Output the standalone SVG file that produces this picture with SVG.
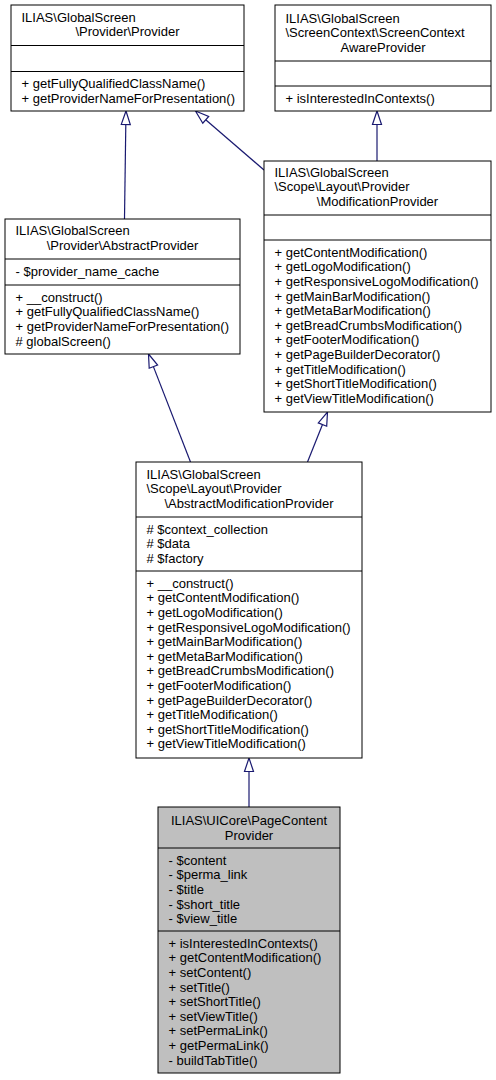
<svg xmlns="http://www.w3.org/2000/svg" width="496" height="1080" viewBox="0 0 496 1080">
<style>
rect.box{fill:#ffffff;stroke:#000000;stroke-width:1}
rect.cur{fill:#bfbfbf;stroke:#000000;stroke-width:1}
line.sep{stroke:#000000;stroke-width:1}
text{font-family:"Liberation Sans",Arial,Helvetica,sans-serif;font-size:13px;fill:#000000}
.c{text-anchor:middle}
.edge{stroke:#191970;stroke-width:1.2;fill:none}
.head{stroke:#191970;stroke-width:1.2;fill:#ffffff}
</style>
<rect width="496" height="1080" fill="#ffffff"/>
<g id="connectors">
<path class="edge" d="M124.5,219 L125.8,124.5"/>
<polygon class="head" points="126,111 130.3,124.6 121.3,124.4"/>
<path class="edge" d="M264,170 L205.7,119.8"/>
<polygon class="head" points="195.5,111 208.7,116.4 202.8,123.2"/>
<path class="edge" d="M377,161 L377,124.5"/>
<polygon class="head" points="377,111 381.5,124.5 372.5,124.5"/>
<path class="edge" d="M190.5,462 L153.4,366.6"/>
<polygon class="head" points="148.5,354 157.6,365 149.2,368.2"/>
<path class="edge" d="M307.5,462 L322.5,424.5"/>
<polygon class="head" points="327.5,412 326.7,426.2 318.3,422.9"/>
<path class="edge" d="M249,807 L249,771.5"/>
<polygon class="head" points="249,758 253.5,771.5 244.5,771.5"/>
</g>
<g id="node-provider">
<rect class="box" x="11" y="5" width="233" height="106"/>
<line class="sep" x1="11" y1="45.5" x2="244" y2="45.5"/>
<line class="sep" x1="11" y1="71.5" x2="244" y2="71.5"/>
<text x="21.5" y="21.8">ILIAS\GlobalScreen</text>
<text class="c" x="127.5" y="36.4">\Provider\Provider</text>
<text x="21.5" y="88.3">+ getFullyQualifiedClassName()</text>
<text x="21.5" y="102.9">+ getProviderNameForPresentation()</text>
</g>
<g id="node-screencontextawareprovider">
<rect class="box" x="275" y="5" width="216" height="106"/>
<line class="sep" x1="275" y1="61" x2="491" y2="61"/>
<line class="sep" x1="275" y1="86" x2="491" y2="86"/>
<text x="285.5" y="22.8">ILIAS\GlobalScreen</text>
<text x="285.5" y="37.4">\ScreenContext\ScreenContext</text>
<text class="c" x="383" y="52">AwareProvider</text>
<text x="285.5" y="102.8">+ isInterestedInContexts()</text>
</g>
<g id="node-modificationprovider">
<rect class="box" x="264" y="161" width="227" height="251"/>
<line class="sep" x1="264" y1="215" x2="491" y2="215"/>
<line class="sep" x1="264" y1="240" x2="491" y2="240"/>
<text x="274.5" y="176.8">ILIAS\GlobalScreen</text>
<text x="274.5" y="191.4">\Scope\Layout\Provider</text>
<text class="c" x="377.5" y="206">\ModificationProvider</text>
<text x="274.5" y="256.8">+ getContentModification()</text>
<text x="274.5" y="271.4">+ getLogoModification()</text>
<text x="274.5" y="286">+ getResponsiveLogoModification()</text>
<text x="274.5" y="300.6">+ getMainBarModification()</text>
<text x="274.5" y="315.2">+ getMetaBarModification()</text>
<text x="274.5" y="329.8">+ getBreadCrumbsModification()</text>
<text x="274.5" y="344.4">+ getFooterModification()</text>
<text x="274.5" y="359">+ getPageBuilderDecorator()</text>
<text x="274.5" y="373.6">+ getTitleModification()</text>
<text x="274.5" y="388.2">+ getShortTitleModification()</text>
<text x="274.5" y="402.8">+ getViewTitleModification()</text>
</g>
<g id="node-abstractprovider">
<rect class="box" x="5" y="219" width="235" height="135"/>
<line class="sep" x1="5" y1="259" x2="240" y2="259"/>
<line class="sep" x1="5" y1="285" x2="240" y2="285"/>
<text x="15.5" y="235.4">ILIAS\GlobalScreen</text>
<text class="c" x="122.5" y="250">\Provider\AbstractProvider</text>
<text x="15.5" y="275.8">- $provider_name_cache</text>
<text x="15.5" y="301.8">+ __construct()</text>
<text x="15.5" y="316.4">+ getFullyQualifiedClassName()</text>
<text x="15.5" y="331">+ getProviderNameForPresentation()</text>
<text x="15.5" y="345.6"># globalScreen()</text>
</g>
<g id="node-abstractmodificationprovider">
<rect class="box" x="136" y="462" width="226" height="296"/>
<line class="sep" x1="136" y1="517" x2="362" y2="517"/>
<line class="sep" x1="136" y1="571" x2="362" y2="571"/>
<text x="146.5" y="478.8">ILIAS\GlobalScreen</text>
<text x="146.5" y="493.4">\Scope\Layout\Provider</text>
<text class="c" x="249" y="508">\AbstractModificationProvider</text>
<text x="146.5" y="533.8"># $context_collection</text>
<text x="146.5" y="548.4"># $data</text>
<text x="146.5" y="563"># $factory</text>
<text x="146.5" y="587.8">+ __construct()</text>
<text x="146.5" y="602.4">+ getContentModification()</text>
<text x="146.5" y="617">+ getLogoModification()</text>
<text x="146.5" y="631.6">+ getResponsiveLogoModification()</text>
<text x="146.5" y="646.2">+ getMainBarModification()</text>
<text x="146.5" y="660.8">+ getMetaBarModification()</text>
<text x="146.5" y="675.4">+ getBreadCrumbsModification()</text>
<text x="146.5" y="690">+ getFooterModification()</text>
<text x="146.5" y="704.6">+ getPageBuilderDecorator()</text>
<text x="146.5" y="719.2">+ getTitleModification()</text>
<text x="146.5" y="733.8">+ getShortTitleModification()</text>
<text x="146.5" y="748.4">+ getViewTitleModification()</text>
</g>
<g id="node-pagecontentprovider">
<rect class="cur" x="158" y="807" width="182" height="266"/>
<line class="sep" x1="158" y1="848" x2="340" y2="848"/>
<line class="sep" x1="158" y1="931" x2="340" y2="931"/>
<text class="c" x="249" y="824.9">ILIAS\UICore\PageContent</text>
<text class="c" x="249" y="839.5">Provider</text>
<text x="168.5" y="864.8">- $content</text>
<text x="168.5" y="879.4">- $perma_link</text>
<text x="168.5" y="894">- $title</text>
<text x="168.5" y="908.6">- $short_title</text>
<text x="168.5" y="923.2">- $view_title</text>
<text x="168.5" y="947.8">+ isInterestedInContexts()</text>
<text x="168.5" y="962.4">+ getContentModification()</text>
<text x="168.5" y="977">+ setContent()</text>
<text x="168.5" y="991.6">+ setTitle()</text>
<text x="168.5" y="1006.2">+ setShortTitle()</text>
<text x="168.5" y="1020.8">+ setViewTitle()</text>
<text x="168.5" y="1035.4">+ setPermaLink()</text>
<text x="168.5" y="1050">+ getPermaLink()</text>
<text x="168.5" y="1064.6">- buildTabTitle()</text>
</g>
</svg>
